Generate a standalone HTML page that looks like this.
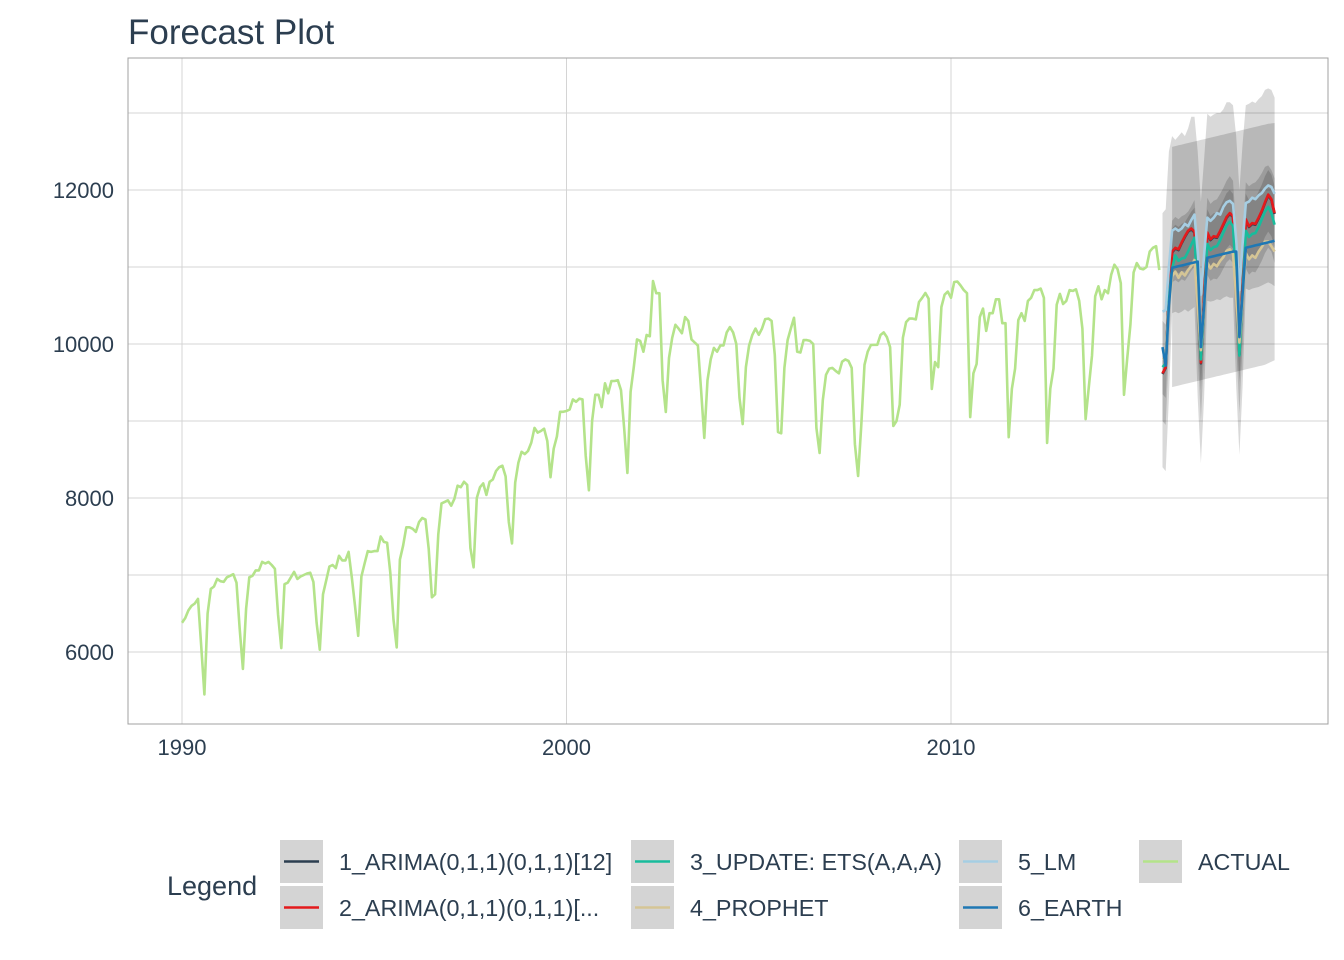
<!DOCTYPE html>
<html><head><meta charset="utf-8"><style>
body{margin:0;background:#fff;width:1344px;height:960px;overflow:hidden;font-family:"Liberation Sans",sans-serif}
svg{display:block}
</style></head><body>
<svg id="chart" width="1344" height="960" xmlns="http://www.w3.org/2000/svg">
<text x="128" y="44" font-size="35" fill="#2c3e50">Forecast Plot</text>
<g id="grid"></g>
<g id="bands"></g>
<g id="lines"></g>
<rect x="128" y="58" width="1200" height="666" fill="none" stroke="#a0a0a0" stroke-width="1"/>
<g id="axes"></g>
<g id="legend"></g>
</svg>
<script>
const NS="http://www.w3.org/2000/svg";
const xTicks=[1990,2000,2010];
const yTicks=[6000,8000,10000,12000];
const yGrid=[6000,7000,8000,9000,10000,11000,12000,13000];
const actual1990s=[6380,6440,6540,6600,6630,6690,6080,5450,6500,6820,6850,6950,
6920,6910,6970,6990,7010,6900,6300,5780,6560,6970,6990,7060,
7060,7170,7150,7170,7130,7080,6480,6050,6880,6900,6970,7040,
6950,6980,7000,7020,7030,6910,6380,6030,6750,6930,7110,7130,
7090,7250,7190,7190,7300,6970,6600,6210,6980,7150,7310,7300,
7310,7310,7500,7430,7420,7030,6420,6060,7200,7380,7620,7620,
7600,7560,7690,7740,7720,7340,6710,6750,7530,7930,7950,7970,
7900,7990,8160,8140,8210,8170,7350,7100,8000,8140,8190,8040,
8210,8240,8350,8400,8420,8280,7690,7410,8200,8460,8600,8570,
8610,8720,8910,8850,8870,8900,8740,8270,8640,8800,9120,9120];
const actual2000s=[9130,9150,9280,9250,9290,9280,8550,8100,9000,9340,9340,9180,
9490,9360,9520,9520,9530,9400,8900,8325,9380,9700,10060,10040,
9900,10117,10100,10818,10660,10660,9530,9117,9818,10080,10250,10200,
10140,10350,10300,10060,10020,9980,9400,8780,9530,9800,9950,9900,
9980,9980,10150,10220,10150,10000,9300,8960,9700,9980,10117,10200,
10120,10200,10324,10330,10300,9857,8857,8840,9690,10050,10200,10340,
9900,9890,10050,10050,10040,10000,8910,8585,9270,9600,9680,9690,
9650,9620,9770,9800,9780,9690,8700,8286,8950,9730,9900,9987,
9990,9990,10117,10150,10090,9960,8935,9000,9210,10080,10285,10330,
10330,10320,10545,10600,10662,10590,9415,9765,9700,10480,10640,10680];
const actual2010s=[10600,10805,10810,10760,10700,10660,9050,9620,9740,10350,10460,10170,
10400,10400,10580,10580,10270,10270,8790,9420,9680,10310,10400,10300,
10560,10600,10700,10700,10720,10600,8715,9420,9680,10510,10650,10520,
10560,10700,10690,10710,10560,10200,9025,9440,9850,10620,10750,10580,
10700,10660,10900,11030,10970,10790,9340,9810,10250,10930,11050,10980,
10970,11000,11200,11250,11270,10960];
const actual=actual1990s.concat(actual2000s,actual2010s);
const arima1=[9610,9690,10690,11190,11240,11220,11310,11390,11460,11490,11450,10700,
9750,10600,11440,11350,11390,11380,11460,11550,11640,11690,11650,10900,
9860,10750,11610,11520,11560,11550,11630,11720,11830,11930,11870,11690];
const arima2=[9620,9700,10700,11200,11250,11230,11320,11400,11470,11500,11460,10710,
9760,10610,11450,11360,11400,11390,11470,11560,11650,11700,11660,10910,
9870,10760,11620,11530,11570,11560,11640,11730,11840,11940,11880,11700];
const ets=[9700,9750,10600,10980,11150,11080,11110,11120,11200,11290,11380,10600,
9800,10500,11300,11220,11260,11270,11350,11450,11540,11590,11530,10800,
9850,10650,11470,11390,11430,11440,11520,11620,11720,11780,11700,11550];
const prophet=[9800,9820,10500,10880,10940,10860,10930,10890,10960,11010,11090,10500,
9920,10500,11060,10980,11040,11010,11080,11130,11210,11230,11170,10600,
10020,10600,11180,11100,11150,11120,11200,11260,11330,11330,11270,11200];
const lm=[10420,10440,11000,11470,11500,11470,11500,11560,11530,11610,11680,11200,
10640,11150,11640,11600,11640,11700,11680,11780,11840,11860,11820,11350,
10700,11300,11830,11850,11900,11880,11930,11960,12020,12060,12040,11950];
const earth=[9960,9720,10500,10990,11000,11010,11020,11030,11040,11050,11060,11070,
9960,10500,11120,11130,11140,11150,11160,11170,11180,11190,11200,11200,
10090,10650,11250,11260,11270,11280,11290,11300,11310,11320,11330,11340];
const band1Hi=[null,null,null,12560,12570,12580,12590,12600,12610,12620,12630,12640,
12650,12660,12670,12680,12690,12700,12710,12720,12730,12740,12750,12760,
12770,12780,12790,12800,12810,12820,12830,12840,12850,12860,12865,12870];
const band1Lo=[null,null,null,9440,9450,9460,9470,9480,9490,9500,9510,9520,
9530,9540,9550,9560,9570,9580,9590,9600,9610,9620,9630,9640,
9650,9660,9670,9680,9690,9700,9710,9720,9730,9750,9770,9790];
const band2Hi=[11700,11750,12500,12700,12650,12700,12750,12700,12800,12950,12950,12500,
11850,12400,12990,12950,12980,13000,13000,13050,13140,13140,13100,12700,
12000,12600,13100,13120,13150,13130,13180,13220,13300,13320,13300,13200];
const band2Lo=[8400,8350,9300,10400,10420,10400,10420,10450,10420,10450,10480,9300,
8450,9300,10560,10550,10560,10580,10570,10600,10620,10600,10600,9450,
8560,9450,10720,10700,10720,10730,10740,10760,10780,10800,10780,10750];
const band3Hi=[10300,10250,11100,11600,11650,11620,11660,11680,11720,11790,11870,11300,
10400,11200,11900,11820,11860,11880,11950,12030,12120,12180,12120,11500,
10550,11400,12100,12050,12080,12100,12150,12220,12300,12320,12260,12150];
const band3Lo=[9000,8950,9900,10800,10830,10800,10840,10820,10880,10950,11000,9900,
9000,9900,10900,10820,10850,10840,10900,10980,11060,11100,11050,10000,
9100,10000,10980,10900,10940,10930,11000,11080,11180,11250,11200,11050];
const band4Hi=[9900,9950,10900,11500,11550,11520,11560,11580,11650,11720,11770,11100,
10050,11000,11750,11660,11700,11700,11780,11870,11960,12000,11950,11300,
10200,11200,11950,11870,11910,11900,11980,12070,12180,12260,12200,12050];
const band4Lo=[9350,9300,10300,10900,10950,10920,10950,10940,10990,11060,11130,10200,
9400,10200,11060,10980,11020,11010,11070,11150,11240,11290,11240,10300,
9500,10300,11180,11100,11140,11130,11200,11290,11390,11460,11400,11250];

const X=t=>182+(t-1990)*38.45;
const Y=v=>344-(v-10000)*0.077;
const tA=j=>1990+j/12;
const tF=i=>2015.5+i/12;
function mk(tag,attrs,parent){const e=document.createElementNS(NS,tag);for(const k in attrs)e.setAttribute(k,attrs[k]);parent.appendChild(e);return e;}

const grid=document.getElementById('grid');
yGrid.forEach(v=>{
  const l=mk('line',{x1:128,x2:1328,y1:Y(v),y2:Y(v),stroke:'#d4d4d4','stroke-width':1},grid);
  
  
});
xTicks.forEach(t=>{
  const l=mk('line',{x1:X(t),x2:X(t),y1:58,y2:724,stroke:'#d4d4d4','stroke-width':1},grid);
  
  
});
const axes=document.getElementById('axes');
yTicks.forEach(v=>{
  const t=mk('text',{x:114,y:Y(v)+8,'text-anchor':'end','font-size':22,fill:'#2c3e50'},axes);
  t.textContent=String(v);
  
  
});
xTicks.forEach(v=>{
  const t=mk('text',{x:X(v),y:755,'text-anchor':'middle','font-size':22,fill:'#2c3e50'},axes);
  t.textContent=String(v);
  
  
});

const bands=document.getElementById('bands');
function band(hi,lo,name){
  const top=[],bot=[];
  hi.forEach((v,i)=>{if(v!==null){top.push(X(tF(i)).toFixed(1)+','+Y(v).toFixed(1));bot.unshift(X(tF(i)).toFixed(1)+','+Y(lo[i]).toFixed(1));}});
  const p=mk('polygon',{points:top.concat(bot).join(' '),fill:'#000','fill-opacity':0.15},bands);
  
  
}
band(band1Hi,band1Lo,'interval-band-1');
band(band2Hi,band2Lo,'interval-band-2');
band(band3Hi,band3Lo,'interval-band-3');
band(band4Hi,band4Lo,'interval-band-4');

const lines=document.getElementById('lines');
function line(vals,tf,color,name){
  const pts=vals.map((v,i)=>X(tf(i)).toFixed(1)+','+Y(v).toFixed(1)).join(' ');
  const p=mk('polyline',{points:pts,fill:'none',stroke:color,'stroke-width':2.6,'stroke-linejoin':'round'},lines);
  
  
}
line(actual,tA,'#b4e38a','actual-line');
line(arima1,tF,'#2c3e50','arima-1-line');
line(arima2,tF,'#e31a1c','arima-2-line');
line(ets,tF,'#18bc9c','ets-line');
line(prophet,tF,'#d5c595','prophet-line');
line(lm,tF,'#a6cee3','lm-line');
line(earth,tF,'#1f78b4','earth-line');

const lg=document.getElementById('legend');
const lt=mk('text',{x:167,y:895,'font-size':27,fill:'#2c3e50'},lg);
lt.textContent='Legend';


const legNames=['1_ARIMA(0,1,1)(0,1,1)[12]','2_ARIMA(0,1,1)(0,1,1)[...','3_UPDATE: ETS(A,A,A)','4_PROPHET','5_LM','6_EARTH','ACTUAL'];
const legColors=['#2c3e50','#e31a1c','#18bc9c','#d5c595','#a6cee3','#1f78b4','#b4e38a'];
const legKeyX=[280,280,631,631,959,959,1139];
const legRow=[0,1,0,1,0,1,0];
legNames.forEach((n,k)=>{
  const y0=840+legRow[k]*46;
  const g=mk('g',{},lg);
  
  
  mk('rect',{x:legKeyX[k],y:y0,width:43,height:43,fill:'#d4d4d4'},g);
  mk('line',{x1:legKeyX[k]+4,x2:legKeyX[k]+39,y1:y0+21.5,y2:y0+21.5,stroke:legColors[k],'stroke-width':2.6},g);
  const t=mk('text',{x:legKeyX[k]+59,y:y0+30,'font-size':23.3,fill:'#2c3e50'},g);
  t.textContent=n;
});
</script>
</body></html>
